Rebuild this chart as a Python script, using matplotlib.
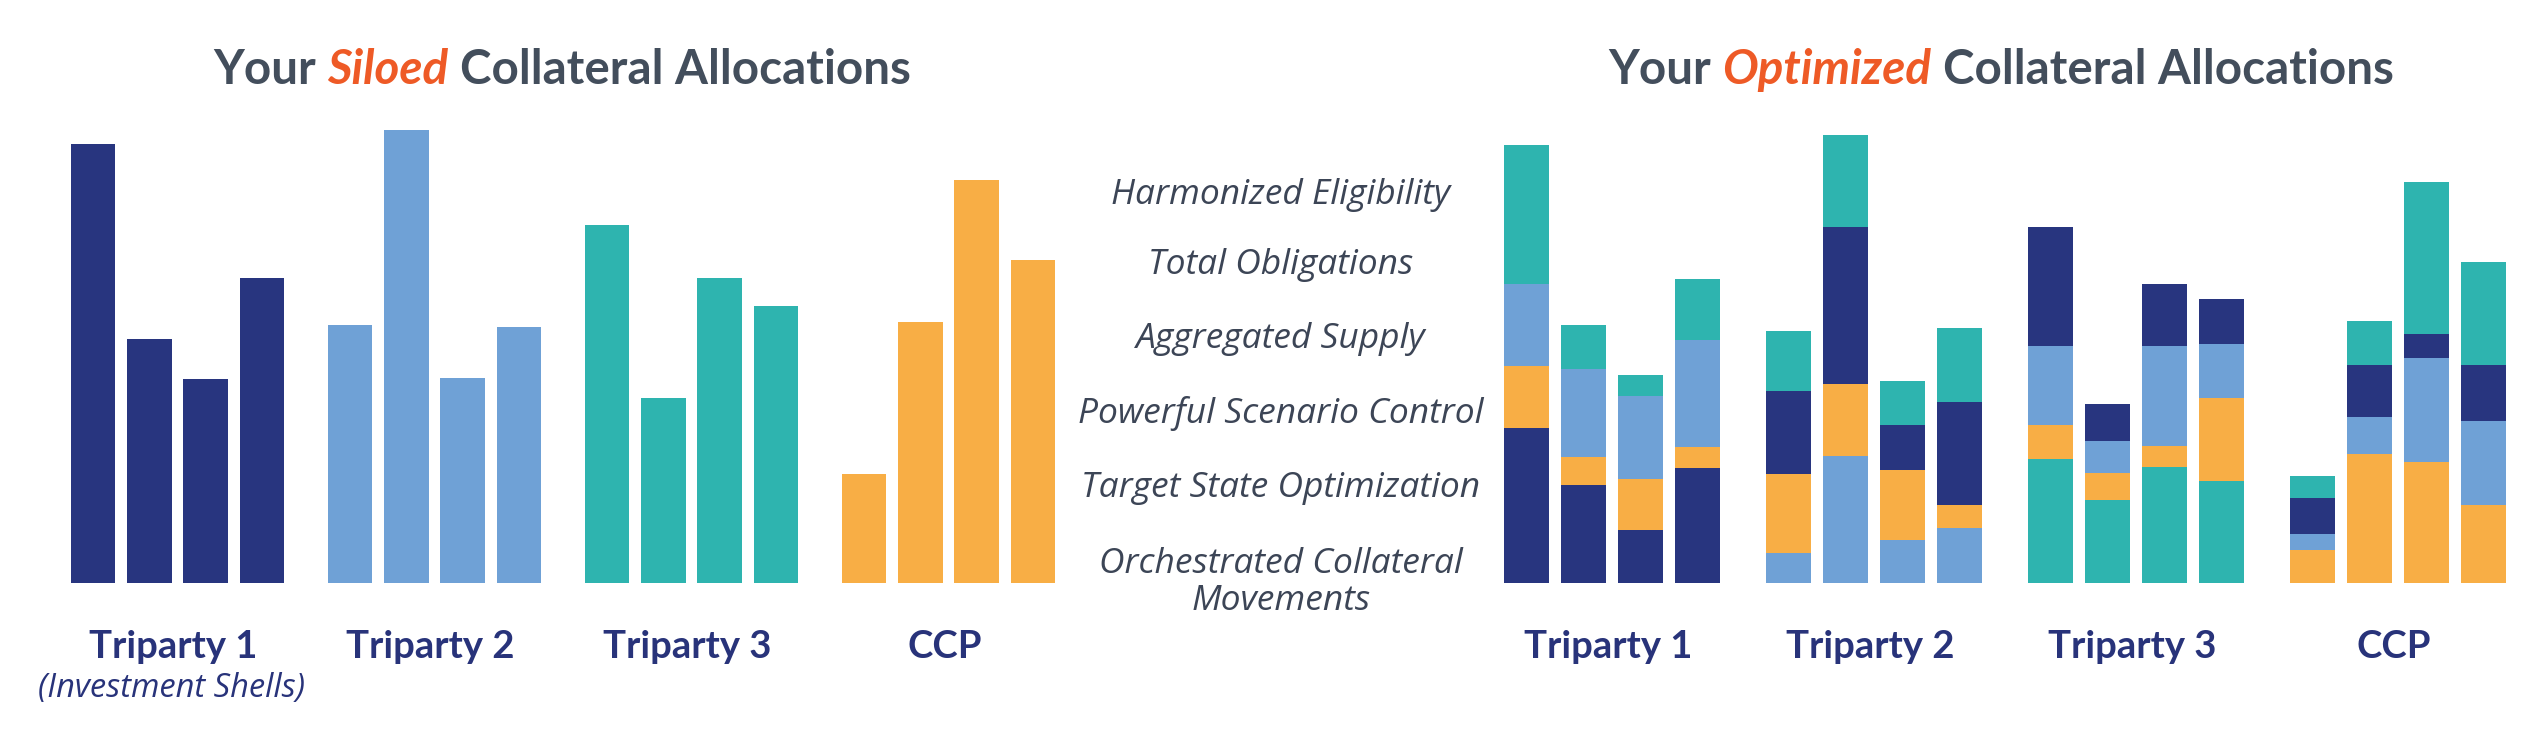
import matplotlib
matplotlib.use("Agg")
import matplotlib.pyplot as plt

# ---------------- data (pixel-height units) ----------------
groups = ["Triparty 1", "Triparty 2", "Triparty 3", "CCP"]
group_note = "(Investment Shells)"

siloed_triparty1 = [439, 244, 204, 305]
siloed_triparty2 = [258, 453, 205, 256]
siloed_triparty3 = [358, 185, 305, 277]
siloed_ccp = [109, 261, 403, 323]

# optimized: per-bar pieces coming from each pool (4 bars per group, 16 bars)
opt_from_triparty1 = [155, 98, 53, 115, 83, 157, 45, 103, 119, 37, 62, 45, 36, 52, 24, 56]
opt_from_triparty2 = [82, 88, 83, 107, 30, 127, 43, 55, 79, 32, 100, 54, 16, 37, 104, 84]
opt_from_triparty3 = [139, 44, 21, 61, 60, 92, 44, 74, 124, 83, 116, 102, 22, 44, 152, 103]
opt_from_ccp = [62, 28, 51, 21, 79, 72, 70, 23, 34, 27, 21, 83, 33, 129, 121, 78]

# stacking order (bottom -> top) per group: 0=T1 pool, 1=T2 pool, 2=T3 pool, 3=CCP pool
stack_orders = [[0, 3, 1, 2], [1, 3, 0, 2], [2, 3, 1, 0], [3, 1, 0, 2]]

features = ["Harmonized Eligibility", "Total Obligations", "Aggregated Supply",
            "Powerful Scenario Control", "Target State Optimization",
            "Orchestrated Collateral", "Movements"]

# ---------------- style ----------------
NAVY = "#28357f"
LBLUE = "#6fa1d6"
TEAL = "#2eb4af"
ORANGE = "#f8ae45"
pool_colors = [NAVY, LBLUE, TEAL, ORANGE]
TITLE_GRAY = "#434e5c"
ACCENT = "#ee5a26"
LABEL_NAVY = "#28337a"
MID_GRAY = "#3c4556"
FONT = "Lato"
FONT2 = "Open Sans"

W, H = 2534, 743
BASE = 582.5  # baseline pixel row

fig = plt.figure(figsize=(W / 100, H / 100), dpi=100)
fig.patch.set_facecolor("white")
ax = fig.add_axes([0, 0, 1, 1])
ax.set_xlim(0, W)
ax.set_ylim(-(H - BASE), BASE)
ax.axis("off")

# ---------------- left: siloed ----------------
left_c0, left_step, left_sp, left_w = 177.5, 257.0, 56.2, 44.5
siloed = [siloed_triparty1, siloed_triparty2, siloed_triparty3, siloed_ccp]
for g, vals in enumerate(siloed):
    xs = [left_c0 + g * left_step + (i - 1.5) * left_sp for i in range(len(vals))]
    ax.bar(xs, vals, width=left_w, color=pool_colors[g], linewidth=0)

# ---------------- right: optimized ----------------
right_c0, right_step, right_sp, right_w = 1612.0, 262.0, 57.0, 45.0
pools = [opt_from_triparty1, opt_from_triparty2, opt_from_triparty3, opt_from_ccp]
for g in range(len(groups)):
    for i in range(4):
        k = g * 4 + i
        x = right_c0 + g * right_step + (i - 1.5) * right_sp
        bottom = 0
        for p in stack_orders[g]:
            v = pools[p][k]
            ax.bar([x], [v], bottom=bottom, width=right_w, color=pool_colors[p], linewidth=0)
            bottom += v

# ---------------- texts ----------------
def fx(x):
    return x / W

def fy(row):
    return 1 - row / H

renderer = fig.canvas.get_renderer()

def rich_title(parts, cx, row, size):
    objs = []
    for s, color, style in parts:
        t = fig.text(0, fy(row), s, color=color, fontsize=size, family=FONT,
                     weight="bold", style=style, ha="left", va="baseline")
        objs.append(t)
    a = fig.text(0, 0, "YourSiloed", fontsize=size, family=FONT, weight="bold")
    b = fig.text(0, 0, "Your Siloed", fontsize=size, family=FONT, weight="bold")
    space = b.get_window_extent(renderer).width - a.get_window_extent(renderer).width
    a.remove(); b.remove()
    widths = [o.get_window_extent(renderer).width for o in objs]
    total = sum(widths) + space * (len(objs) - 1)
    x = cx - total / 2
    for o, w in zip(objs, widths):
        o.set_x(fx(x))
        x += w + space

rich_title([("Your", TITLE_GRAY, "normal"), ("Siloed", ACCENT, "italic"),
            ("Collateral Allocations", TITLE_GRAY, "normal")], 562, 84, 34.2)
rich_title([("Your", TITLE_GRAY, "normal"), ("Optimized", ACCENT, "italic"),
            ("Collateral Allocations", TITLE_GRAY, "normal")], 2001, 84, 34.2)

for g, name in enumerate(groups):
    for c0, step in ((left_c0, left_step), (right_c0, right_step)):
        fig.text(fx(c0 + g * step - 4), fy(658), name, color=LABEL_NAVY, fontsize=27.5,
                 family=FONT, weight="bold", ha="center", va="baseline")
fig.text(fx(171), fy(697), group_note, color=LABEL_NAVY, fontsize=23.5, family=FONT2,
         style="italic", ha="center", va="baseline")

feature_rows = [204, 274, 348, 423, 497, 573, 610]
for row, txt in zip(feature_rows, features):
    fig.text(fx(1281), fy(row), txt, color=MID_GRAY, fontsize=25.5, family=FONT2,
             style="italic", ha="center", va="baseline")

fig.savefig("out.png", dpi=100, facecolor="white")
